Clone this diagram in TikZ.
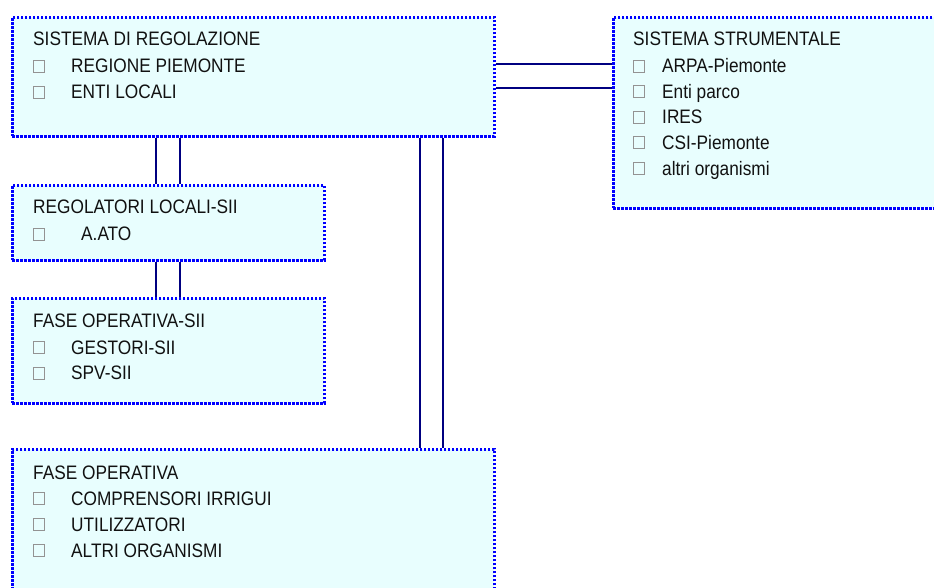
\documentclass[tikz,border=0pt]{standalone}
\usepackage{fontspec}
\usepackage{graphicx}
\setmainfont{Liberation Sans}
\definecolor{boxfill}{HTML}{E8FEFE}
\definecolor{boxline}{HTML}{0000FF}
\definecolor{connc}{HTML}{000080}
\definecolor{txt}{HTML}{111111}
\newcommand{\narrowtxt}[1]{\scalebox{0.885}[1]{#1}}
\tikzset{
  frame/.style={draw=boxline, fill=boxfill, line width=2.8pt, dash pattern=on 2.4pt off 1.6pt,
    rectangle, inner sep=0pt, anchor=north west},
  linkline/.style={draw=connc, line width=2.6pt},
  lbl/.style={anchor=base west, inner sep=0pt, text=txt, font=\fontsize{19.5}{22}\selectfont},
  sq/.style={draw=gray!85, line width=0.9pt, rectangle, minimum width=10.5pt,
    minimum height=12pt, inner sep=0pt, anchor=south west}
}
\begin{document}
\begin{tikzpicture}[x=1pt,y=-1pt]
\clip (0,0) rectangle (934,587);
% boxes
\node[frame, minimum width=482pt, minimum height=119pt] (b1) at (11,16) {};
\node[frame, minimum width=330pt, minimum height=191pt] (b2) at (612,16) {};
\node[frame, minimum width=312pt, minimum height=75pt] (b3) at (11,184) {};
\node[frame, minimum width=312pt, minimum height=105pt] (b4) at (11,297) {};
\node[frame, minimum width=482pt, minimum height=150pt] (b5) at (11,448) {};
% connectors
\draw[linkline] ([xshift=145pt]b1.south west) -- ([xshift=145pt]b3.north west);
\draw[linkline] ([xshift=169pt]b1.south west) -- ([xshift=169pt]b3.north west);
\draw[linkline] ([xshift=145pt]b3.south west) -- ([xshift=145pt]b4.north west);
\draw[linkline] ([xshift=169pt]b3.south west) -- ([xshift=169pt]b4.north west);
\draw[linkline] ([xshift=409pt]b1.south west) -- ([xshift=409pt]b5.north west);
\draw[linkline] ([xshift=432pt]b1.south west) -- ([xshift=432pt]b5.north west);
\draw[linkline] ([yshift=-48pt]b1.north east) -- ([yshift=-48pt]b2.north west);
\draw[linkline] ([yshift=-72pt]b1.north east) -- ([yshift=-72pt]b2.north west);
% box 1
\node[lbl] (t1) at (33,45.5) {\narrowtxt{SISTEMA DI REGOLAZIONE}};
\node[sq] (s1a) at (33,72.5) {}; \node[lbl] (t1a) at (71,72.5) {\narrowtxt{REGIONE PIEMONTE}};
\node[sq] (s1b) at (33,98.5) {}; \node[lbl] (t1b) at (71,98.5) {\narrowtxt{ENTI LOCALI}};
% box 2
\node[lbl] (t2) at (633,45.5) {\narrowtxt{SISTEMA STRUMENTALE}};
\node[sq] (s2a) at (633,72.5) {}; \node[lbl] (t2a) at (662,72.5) {\narrowtxt{ARPA-Piemonte}};
\node[sq] (s2b) at (633,98) {}; \node[lbl] (t2b) at (662,98) {\narrowtxt{Enti parco}};
\node[sq] (s2c) at (633,123.5) {}; \node[lbl] (t2c) at (662,123.5) {\narrowtxt{IRES}};
\node[sq] (s2d) at (633,149) {}; \node[lbl] (t2d) at (662,149) {\narrowtxt{CSI-Piemonte}};
\node[sq] (s2e) at (633,175) {}; \node[lbl] (t2e) at (662,175) {\narrowtxt{altri organismi}};
% box 3
\node[lbl] (t3) at (33,213) {\narrowtxt{REGOLATORI LOCALI-SII}};
\node[sq] (s3a) at (33,240.5) {}; \node[lbl] (t3a) at (81,240.5) {\narrowtxt{A.ATO}};
% box 4
\node[lbl] (t4) at (33,327) {\narrowtxt{FASE OPERATIVA-SII}};
\node[sq] (s4a) at (33,354) {}; \node[lbl] (t4a) at (71,354) {\narrowtxt{GESTORI-SII}};
\node[sq] (s4b) at (33,379.5) {}; \node[lbl] (t4b) at (71,379.5) {\narrowtxt{SPV-SII}};
% box 5
\node[lbl] (t5) at (33,479) {\narrowtxt{FASE OPERATIVA}};
\node[sq] (s5a) at (33,505) {}; \node[lbl] (t5a) at (71,505) {\narrowtxt{COMPRENSORI IRRIGUI}};
\node[sq] (s5b) at (33,531) {}; \node[lbl] (t5b) at (71,531) {\narrowtxt{UTILIZZATORI}};
\node[sq] (s5c) at (33,557) {}; \node[lbl] (t5c) at (71,557) {\narrowtxt{ALTRI ORGANISMI}};
\end{tikzpicture}
\end{document}
